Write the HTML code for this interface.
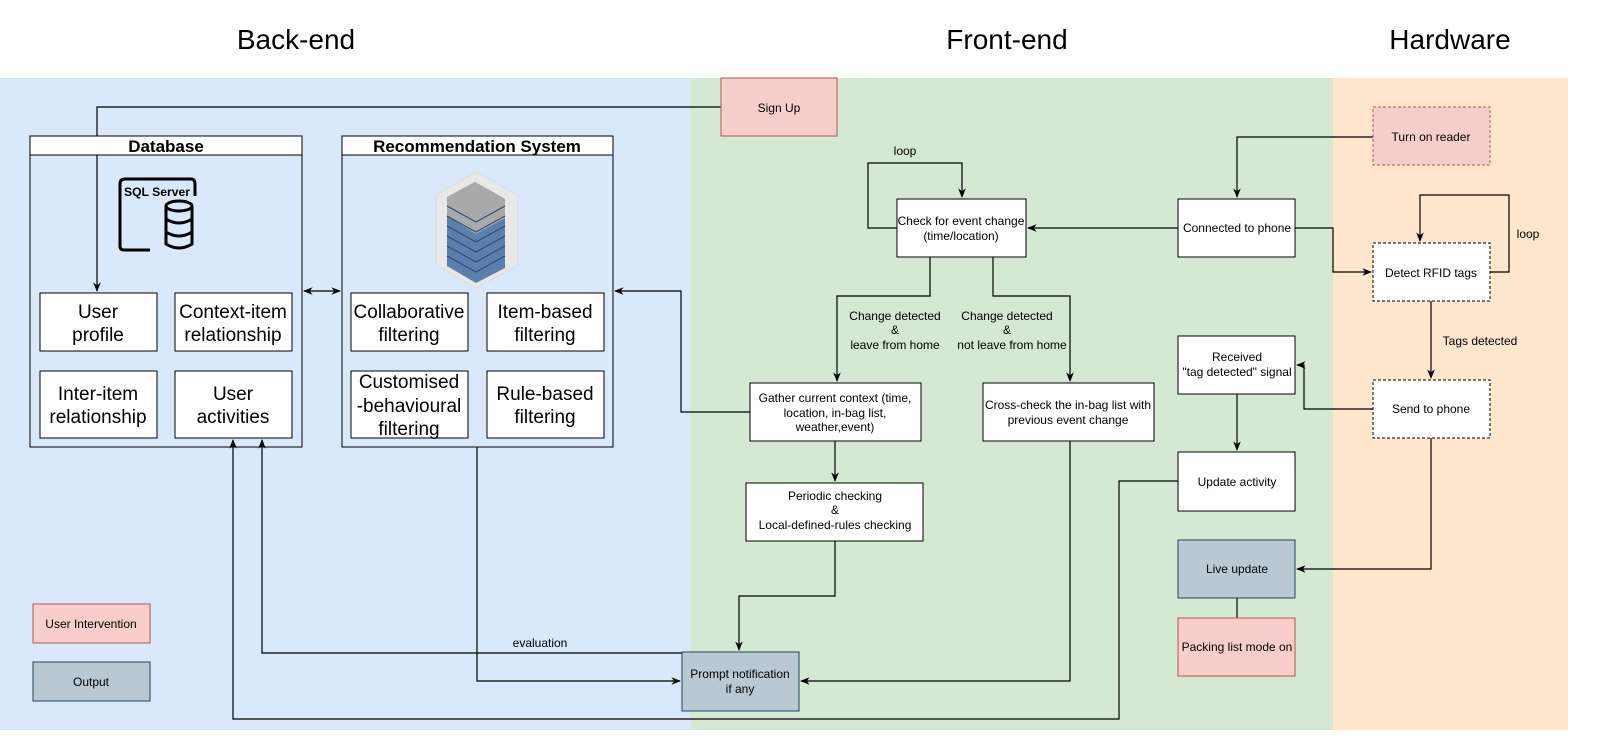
<!DOCTYPE html>
<html><head><meta charset="utf-8"><style>
html,body{margin:0;padding:0;background:#fff;}
svg{display:block;font-family:"Liberation Sans",Arial,sans-serif;}
</style></head><body>
<svg width="1611" height="751" viewBox="0 0 1611 751" xmlns="http://www.w3.org/2000/svg">
<defs>
<marker id="a" viewBox="0 0 10 10" refX="9" refY="5" markerWidth="8" markerHeight="8" orient="auto-start-reverse"><path d="M0,1 L10,5 L0,9 L3,5 z" fill="#000"/></marker>
</defs>
<rect x="0" y="0" width="1611" height="751" fill="#fff"/>
<rect x="0" y="78" width="690" height="652" fill="#dae8fc"/>
<rect x="690" y="78" width="643" height="652" fill="#d5e8d4"/>
<rect x="1333" y="78" width="235" height="652" fill="#ffe6cc"/>
<g font-size="28" text-anchor="middle" fill="#000">
<text x="296" y="49">Back-end</text>
<text x="1007" y="49">Front-end</text>
<text x="1450" y="49">Hardware</text>
</g>
<g fill="none" stroke="#000" stroke-width="1.2">
<polyline points="721,107 97,107 97,291" marker-end="url(#a)"/>
<line x1="304" y1="291" x2="340" y2="291" marker-start="url(#a)" marker-end="url(#a)"/>
<polyline points="750,412 681,412 681,291 615,291" marker-end="url(#a)"/>
<polyline points="897,228 868,228 868,163 962,163 962,197" marker-end="url(#a)"/>
<line x1="1178" y1="228" x2="1028" y2="228" marker-end="url(#a)"/>
<polyline points="1373,137 1237,137 1237,197" marker-end="url(#a)"/>
<polyline points="1295,228 1333,228 1333,272 1371,272" marker-end="url(#a)"/>
<polyline points="1490,272 1509,272 1509,195 1420,195 1420,241" marker-end="url(#a)"/>
<line x1="1431" y1="301" x2="1431" y2="378" marker-end="url(#a)"/>
<polyline points="1373,409 1304,409 1304,365 1297,365" marker-end="url(#a)"/>
<line x1="1237" y1="394" x2="1237" y2="450" marker-end="url(#a)"/>
<polyline points="1178,481 1119,481 1119,719 233,719 233,440" marker-end="url(#a)"/>
<polyline points="1431,438 1431,569 1297,569" marker-end="url(#a)"/>
<line x1="1237" y1="598" x2="1237" y2="618"/>
<polyline points="930,257 930,296 837,296 837,381" marker-end="url(#a)"/>
<polyline points="993,257 993,296 1070,296 1070,381" marker-end="url(#a)"/>
<line x1="835" y1="441" x2="835" y2="481" marker-end="url(#a)"/>
<polyline points="835,541 835,596 739,596 739,650" marker-end="url(#a)"/>
<polyline points="682,653 262,653 262,440" marker-end="url(#a)"/>
<polyline points="477,447 477,681 680,681" marker-end="url(#a)"/>
<polyline points="1070,441 1070,681 801,681" marker-end="url(#a)"/>
</g>
<g stroke="#000" stroke-width="1" fill="#fff">
<rect x="30" y="136" width="272" height="311" fill="none"/>
<rect x="30" y="136" width="272" height="19"/>
<rect x="342" y="136" width="271" height="311" fill="none"/>
<rect x="342" y="136" width="271" height="19"/>
<rect x="40" y="293" width="117" height="58"/>
<rect x="175" y="293" width="117" height="58"/>
<rect x="40" y="371" width="117" height="67"/>
<rect x="175" y="371" width="117" height="67"/>
<rect x="351" y="293" width="117" height="58"/>
<rect x="487" y="293" width="117" height="58"/>
<rect x="351" y="371" width="117" height="67"/>
<rect x="487" y="371" width="117" height="67"/>
<rect x="897" y="199" width="129" height="58"/>
<rect x="1178" y="199" width="117" height="58"/>
<rect x="1178" y="336" width="117" height="58"/>
<rect x="1178" y="452" width="117" height="59"/>
<rect x="750" y="383" width="171" height="58"/>
<rect x="983" y="383" width="171" height="58"/>
<rect x="746" y="483" width="177" height="58"/>
<rect x="1373" y="243" width="117" height="58" stroke-dasharray="3,2"/>
<rect x="1373" y="380" width="117" height="58" stroke-dasharray="3,2"/>
</g>
<g stroke-width="1">
<rect x="721" y="78" width="116" height="58" fill="#f8cecc" stroke="#b85450"/>
<rect x="1373" y="107" width="117" height="58" fill="#f8cecc" stroke="#b85450" stroke-dasharray="3,2"/>
<rect x="1178" y="618" width="117" height="58" fill="#f8cecc" stroke="#b85450"/>
<rect x="33" y="604" width="117" height="39" fill="#f8cecc" stroke="#b85450"/>
<rect x="1178" y="540" width="117" height="58" fill="#bac8d3" stroke="#23445d"/>
<rect x="682" y="652" width="117" height="59" fill="#bac8d3" stroke="#23445d"/>
<rect x="33" y="662" width="117" height="39" fill="#bac8d3" stroke="#23445d"/>
</g>
<!-- SQL icon -->
<g fill="none" stroke="#000" stroke-width="3">
<path d="M150,250 L124,250 Q120,250 120,246 L120,184 Q120,179 125,179 L191,179 Q195,179 195,184 L195,196"/>
<ellipse cx="179" cy="206" rx="13" ry="5"/>
<path d="M166,206 V244 Q179,252 192,244 V206 M166,219 Q179,227 192,219 M166,232 Q179,240 192,232"/>
</g>
<text x="124" y="196" font-size="12" font-weight="bold" textLength="66" lengthAdjust="spacingAndGlyphs">SQL Server</text>
<!-- server icon -->
<g>
<path d="M436,195 L476,172 L518,195 L518,265 L476,288 L436,265 z" fill="#e8e8e8" stroke="#ddd"/>
<path d="M447,197 L475,182 L505,199 L505,268 L476,283 L447,266 z" fill="#5b7fae"/>
<path d="M447,197 L475,182 L505,199 L505,218 L476,234 L447,216 z" fill="#a9a9a9"/>
<g stroke="#2f4a6e" stroke-width="1" fill="none">
<path d="M447,206 L476,222 L505,206 M447,216 L476,232 L505,216 M447,226 L476,242 L505,226 M447,236 L476,252 L505,236 M447,246 L476,262 L505,246 M447,256 L476,272 L505,256"/>
</g>
</g>
<g font-size="17" font-weight="bold" text-anchor="middle">
<text x="166" y="152">Database</text>
<text x="477" y="152">Recommendation System</text>
</g>
<g font-size="19" text-anchor="middle" fill="#000">
<text x="98" y="318">User</text><text x="98" y="341">profile</text>
<text x="233" y="318">Context-item</text><text x="233" y="341">relationship</text>
<text x="98" y="400">Inter-item</text><text x="98" y="423">relationship</text>
<text x="233" y="400">User</text><text x="233" y="423">activities</text>
<text x="409" y="318">Collaborative</text><text x="409" y="341">filtering</text>
<text x="545" y="318">Item-based</text><text x="545" y="341">filtering</text>
<text x="409" y="388">Customised</text><text x="409" y="412">-behavioural</text><text x="409" y="435">filtering</text>
<text x="545" y="400">Rule-based</text><text x="545" y="423">filtering</text>
</g>
<g font-size="12" text-anchor="middle" fill="#000">
<text x="779" y="112">Sign Up</text>
<text x="1431" y="141">Turn on reader</text>
<text x="961" y="225">Check for event change</text><text x="961" y="240">(time/location)</text>
<text x="1237" y="232">Connected to phone</text>
<text x="1431" y="277">Detect RFID tags</text>
<text x="1431" y="413">Send to phone</text>
<text x="1237" y="361">Received</text><text x="1237" y="376">"tag detected" signal</text>
<text x="1237" y="486">Update activity</text>
<text x="1237" y="573">Live update</text>
<text x="1237" y="651">Packing list mode on</text>
<text x="835" y="402">Gather current context (time,</text><text x="835" y="417">location, in-bag list,</text><text x="835" y="431">weather,event)</text>
<text x="1068" y="409">Cross-check the in-bag list with</text><text x="1068" y="424">previous event change</text>
<text x="835" y="500">Periodic checking</text><text x="835" y="514">&amp;</text><text x="835" y="529">Local-defined-rules checking</text>
<text x="740" y="678">Prompt notification</text><text x="740" y="693">if any</text>
<text x="91" y="628">User Intervention</text>
<text x="91" y="686">Output</text>
<text x="905" y="155">loop</text>
<text x="1528" y="238">loop</text>
<text x="1480" y="345">Tags detected</text>
<text x="895" y="320">Change detected</text><text x="895" y="334">&amp;</text><text x="895" y="349">leave from home</text>
<text x="1007" y="320">Change detected</text><text x="1007" y="334">&amp;</text><text x="1012" y="349">not leave from home</text>
<text x="540" y="647">evaluation</text>
</g>
</svg>
</body></html>
